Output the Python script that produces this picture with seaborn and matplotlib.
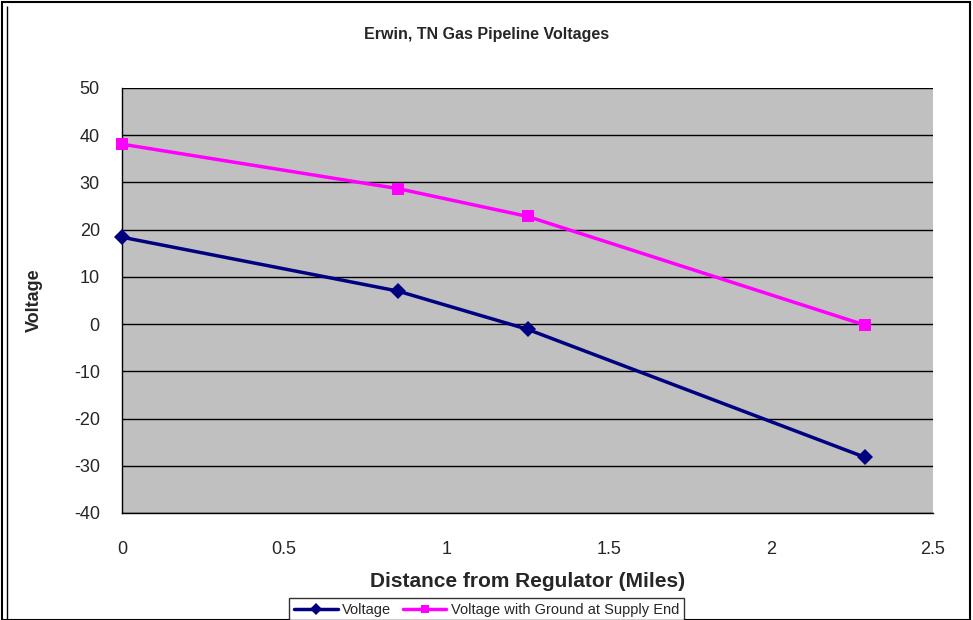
import matplotlib
matplotlib.use("Agg")
import matplotlib.pyplot as plt
import seaborn as sns
import pandas as pd
from matplotlib.patches import Rectangle
from matplotlib.lines import Line2D

distance = [0.0, 0.85, 1.25, 2.29]
voltage = [18.4, 7.0, -1.1, -28.2]
voltage_ground = [38.1, 28.7, 22.8, -0.2]
series_names = ["Voltage", "Voltage with Ground at Supply End"]
title = "Erwin, TN Gas Pipeline Voltages"
xlabel = "Distance from Regulator (Miles)"
ylabel = "Voltage"
xticks = [0, 0.5, 1, 1.5, 2, 2.5]
xticklabels = ["0", "0.5", "1", "1.5", "2", "2.5"]
yticks = [-40, -30, -20, -10, 0, 10, 20, 30, 40, 50]

df = pd.DataFrame({
    "Distance": distance * 2,
    "Value": voltage + voltage_ground,
    "Series": [series_names[0]] * len(distance) + [series_names[1]] * len(distance),
})

sns.set_style("white")
plt.rcParams["font.family"] = ["Liberation Sans", "DejaVu Sans"]
plt.rcParams["axes.unicode_minus"] = False

fig = plt.figure(figsize=(9.73, 6.2), dpi=100)
ax = fig.add_axes([0.1254, 0.1726, 0.8335, 0.6855])
ax.set_facecolor("#C0C0C0")

palette = {series_names[0]: "#000080", series_names[1]: "#FF00FF"}
markers = {series_names[0]: "D", series_names[1]: "s"}
sns.lineplot(data=df, x="Distance", y="Value", hue="Series", style="Series",
             palette=palette, markers=markers, dashes=False, linewidth=2.5,
             markersize=8, markeredgewidth=0, ax=ax, legend=False, zorder=3)
for ln in ax.lines:
    ln.set_clip_on(False)

ax.set_xlim(0, 2.5)
ax.set_ylim(-40, 50)
ax.set_xticks(xticks)
ax.set_xticklabels(xticklabels)
ax.set_yticks(yticks)
ax.set_yticklabels([str(v) for v in yticks])
ax.yaxis.grid(True, color="black", linewidth=1)
ax.xaxis.grid(False)
ax.set_axisbelow(True)
for s in ["top", "right"]:
    ax.spines[s].set_visible(False)
for s in ["left", "bottom"]:
    ax.spines[s].set_color("black")
    ax.spines[s].set_linewidth(1)
ax.tick_params(axis="both", which="both", direction="out", length=6, width=1,
               color="black", labelsize=13, pad=14)
ax.tick_params(axis="y", pad=10)
ax.set_xlabel(xlabel, fontsize=15, fontweight="bold", labelpad=10)
ax.set_ylabel(ylabel, fontsize=13, fontweight="bold", labelpad=22)
fig.text(0.5, 0.945, title, ha="center", va="center", fontsize=11.5, fontweight="bold")

handles = [Line2D([], [], color=palette[n], marker=markers[n], markersize=6,
                  linewidth=2.5, markeredgewidth=0) for n in series_names]
leg = fig.legend(handles, series_names, loc="lower center", bbox_to_anchor=(0.5, -0.004),
                 ncol=2, fontsize=10.5, frameon=True, fancybox=False, borderpad=0.35,
                 handlelength=3.0, columnspacing=0.8, handletextpad=0.3, borderaxespad=0)
leg.get_frame().set_edgecolor("black")
leg.get_frame().set_linewidth(1)

fig.patches.append(Rectangle((0.002, 0.0), 0.995, 0.997, transform=fig.transFigure,
                             fill=False, edgecolor="black", linewidth=1.5))
fig.patches.append(Rectangle((0.007, 0.0), 0.0, 0.99, transform=fig.transFigure,
                             fill=False, edgecolor="black", linewidth=1))

fig.savefig("out.png", dpi=100)
